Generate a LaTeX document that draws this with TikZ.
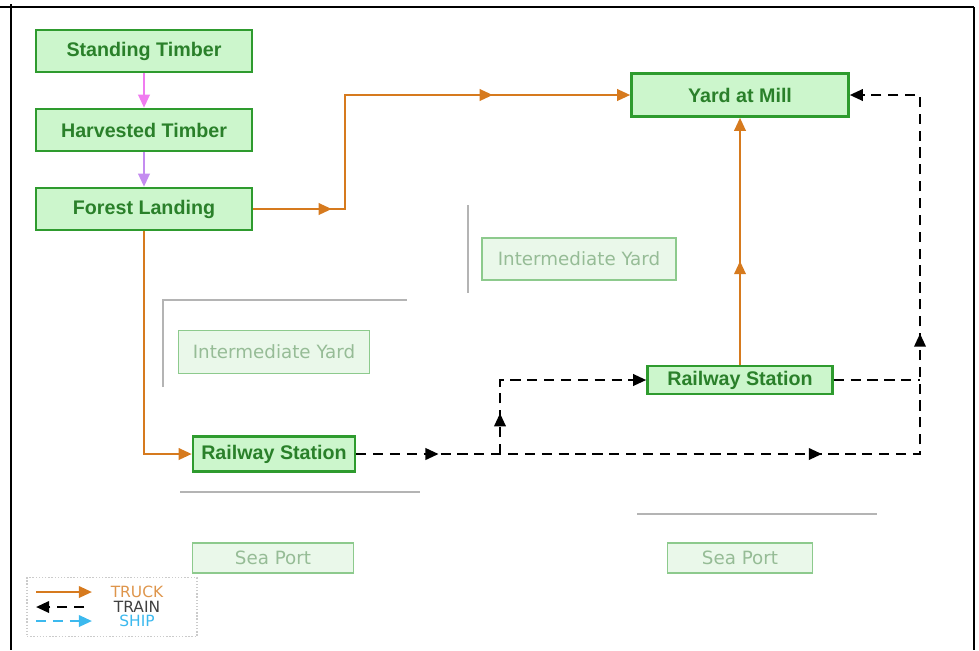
\documentclass[tikz,border=0pt]{standalone}
\usepackage{fontspec}
\setmainfont{Liberation Sans}
\newfontfamily\vfont{DejaVu Sans}
\usepackage{xcolor}
\usetikzlibrary{positioning, arrows.meta, calc, decorations.markings}

\definecolor{boxfill}{HTML}{CCF6CC}
\definecolor{boxline}{HTML}{2E9B2E}
\definecolor{boxtext}{HTML}{2A802A}
\definecolor{fadefill}{HTML}{EAF8EA}
\definecolor{fadeline}{HTML}{8DCA8D}
\definecolor{fadetext}{HTML}{96BC96}
\definecolor{truckcol}{HTML}{D67A1E}
\definecolor{pinkcol}{HTML}{F07CF0}
\definecolor{violetcol}{HTML}{C48CF0}
\definecolor{shipcol}{HTML}{3CB9EE}
\definecolor{leftover}{HTML}{B4B4B4}

\begin{document}
\begin{tikzpicture}[
    x=0.02cm, y=-0.02cm,
    box/.style={draw=boxline, fill=boxfill, rectangle, line width=1.4pt, minimum width=4.32cm, minimum height=0.84cm, inner sep=0pt, align=center, text=boxtext, font=\fontsize{11.2}{13}\selectfont\bfseries},
    fadebox/.style={draw=fadeline, fill=fadefill, rectangle, line width=1pt, minimum height=0.84cm, inner sep=0pt, text=fadetext, font=\vfont\fontsize{10.4}{12}\selectfont},
    tip/.style={-{Triangle[length=7.5pt, width=6.5pt]}},
    truck/.style={draw=truckcol, line width=1.4pt, tip},
    train/.style={draw=black, line width=1.4pt, dash pattern=on 5.8pt off 3.8pt, tip},
    tips/.style={postaction={decorate, decoration={markings, mark=at position #1 with {\arrow{Triangle[length=7.5pt, width=6.5pt]}}}}},
    keytext/.style={font=\vfont\fontsize{8.8}{9}\selectfont, inner sep=0pt}
]
    \useasboundingbox (0,0) rectangle (979,650);

    % --- Frame ---
    \draw[line width=1.3pt] (0,7) -- (974,7);
    \draw[line width=1.3pt] (11,4) -- (11,650);
    \draw[line width=1.3pt] (974,7) -- (974,650);

    % --- Leftover lines ---
    \draw[leftover, line width=0.7pt] (163,387) -- (163,300) -- (407,300);
    \draw[leftover, line width=0.7pt] (468,205) -- (468,293);
    \draw[leftover, line width=0.7pt] (180,492) -- (420,492);
    \draw[leftover, line width=0.7pt] (637,514) -- (877,514);

    % --- Forest ---
    \node[box] (stand) at (144,51) {Standing Timber};
    \node[box] (harvest) at (144,130) {Harvested Timber};
    \node[box] (landing) at (144,209) {Forest Landing};

    \draw[pinkcol, line width=1.4pt, tip] (stand) -- (harvest);
    \draw[violetcol, line width=1.4pt, tip] (harvest) -- (landing);

    % --- Mill and stations ---
    \node[box, minimum width=4.34cm, minimum height=0.86cm] (mill) at (740,95) {Yard at Mill};
    \node[box, minimum width=3.24cm, minimum height=0.7cm] (station1) at (274,454) {Railway Station};
    \node[box, minimum width=3.7cm, minimum height=0.56cm] (station2) at (740,380) {Railway Station};

    % --- Unused points ---
    \node[fadebox, minimum width=3.82cm, minimum height=0.86cm] (inter1) at (274,352) {Intermediate Yard};
    \node[fadebox, minimum width=3.88cm] (inter2) at (579,259) {Intermediate Yard};
    \node[fadebox, minimum width=3.22cm, minimum height=0.6cm] (port1) at (273,558) {Sea Port};
    \node[fadebox, minimum width=2.9cm, minimum height=0.6cm] (port2) at (740,558) {Sea Port};

    % --- Truck routes ---
    \coordinate (bend1) at (345,209);
    \draw[truck, tips=0.16, tips=0.72] (landing.east) -- (bend1) |- (mill.west);
    \draw[truck] (landing.south) |- (station1.west);
    \draw[truck, tips=0.42] (station2.north) -- (mill.south);

    % --- Train routes ---
    \coordinate (bend2) at (920,454);
    \coordinate (fork) at (500,454);
    \draw[train, tips=0.083, tips=0.469, tips=0.689] (station1.east) -- (bend2) |- (mill.east);
    \draw[train, tips=0.185] (fork) |- (station2.west);
    \draw[train, -] (station2.east) -- (station2.east -| bend2);

    % --- Key ---
    \node[draw=leftover!70, densely dotted, line width=0.8pt, minimum width=3.4cm, minimum height=1.18cm] (key) at (112,607) {};
    \node[keytext, text=truckcol!80] (keytruck) at (137,592) {TRUCK};
    \node[keytext, text=black!75] (keytrain) at (137,607) {TRAIN};
    \node[keytext, text=shipcol] (keyship) at (137,621) {SHIP};
    \coordinate (k1) at (36,592); \coordinate (k2) at (92,592);
    \coordinate (k3) at (84,607); \coordinate (k4) at (36,607);
    \coordinate (k5) at (36,621); \coordinate (k6) at (92,621);
    \draw[truck] (k1) -- (k2);
    \draw[train] (k3) -- (k4);
    \draw[draw=shipcol, line width=1.4pt, dash pattern=on 5.8pt off 3.8pt, tip] (k5) -- (k6);

\end{tikzpicture}
\end{document}
